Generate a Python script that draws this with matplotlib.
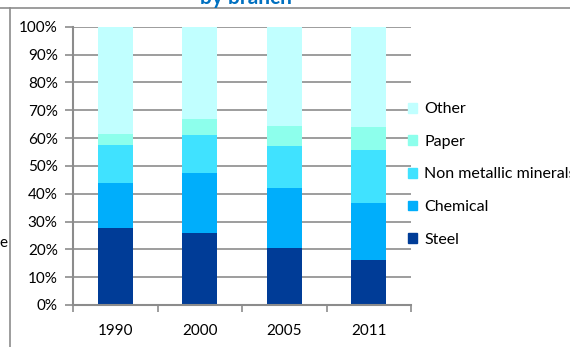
import numpy as np
import matplotlib
matplotlib.use('Agg')
import matplotlib.pyplot as plt
from matplotlib.lines import Line2D
from matplotlib.patches import Patch

plt.rcParams['font.family'] = ['Lato', 'DejaVu Sans']

years = ['1990', '2000', '2005', '2011']
branches = ['Steel', 'Chemical', 'Non metallic minerals', 'Paper', 'Other']
steel = [27.7, 25.8, 20.6, 16.2]
chemical = [16.2, 21.8, 21.4, 20.5]
non_metallic = [13.5, 13.5, 15.1, 18.9]
paper = [4.0, 5.7, 7.2, 8.3]
other = [38.6, 33.2, 35.7, 36.1]
colors = ['#003C97', '#00AEFB', '#40E2FF', '#8DFFEC', '#C1FFFF']

fig = plt.figure(figsize=(5.7, 3.47), dpi=100)
ax = fig.add_axes([73/570, 1-305/347, 338/570, (305-26.7)/347])

x = np.arange(len(years))
bottom = np.zeros(len(years))
series = [steel, chemical, non_metallic, paper, other]
for vals, col, name in zip(series, colors, branches):
    ax.bar(x, vals, 0.41, bottom=bottom, color=col, label=name, zorder=2)
    bottom += np.array(vals)

ax.set_xlim(-0.5, 3.5)
ax.set_ylim(0, 100)
ax.set_yticks(np.arange(0, 101, 10))
ax.set_yticklabels(['{}%'.format(v) for v in range(0, 101, 10)], fontsize=11)
ax.yaxis.grid(True, color='#8c8c8c', linewidth=1.2, zorder=0)
ax.set_xticks(x)
ax.set_xticklabels(years, fontsize=11)
ax.set_xticks(np.arange(-0.5, 3.6, 1), minor=True)
ax.tick_params(axis='x', which='major', length=0, pad=14)
ax.tick_params(axis='x', which='minor', length=5, color='#8c8c8c', width=1.2)
ax.tick_params(axis='y', length=6, color='#8c8c8c', width=1.2, pad=5)
for s in ['top', 'right']:
    ax.spines[s].set_visible(False)
for s in ['left', 'bottom']:
    ax.spines[s].set_color('#8c8c8c')
    ax.spines[s].set_linewidth(1.5)

handles = [Patch(color=c) for c in colors][::-1]
fig.legend(handles, branches[::-1], loc='upper left', bbox_to_anchor=(402/570, 1-96/347),
           frameon=False, fontsize=11.5, handlelength=0.55, handleheight=0.55,
           handletextpad=0.45, labelspacing=1.16, borderaxespad=0)

# frame remnants of the cropped chart
fig.add_artist(Line2D([0, 1], [1-8/347, 1-8/347], color='#8c8c8c', lw=1.2))
fig.add_artist(Line2D([10/570, 10/570], [0, 1-8/347], color='#8c8c8c', lw=1.2))
fig.text(246/570, 1-4/347, 'by branch', color='#0070C0', fontsize=15,
         fontweight='bold', ha='center', va='baseline')
fig.text(-1/570, 1-243/347, 'e', fontsize=11, va='center', ha='left')

fig.savefig('out.png', dpi=100)
